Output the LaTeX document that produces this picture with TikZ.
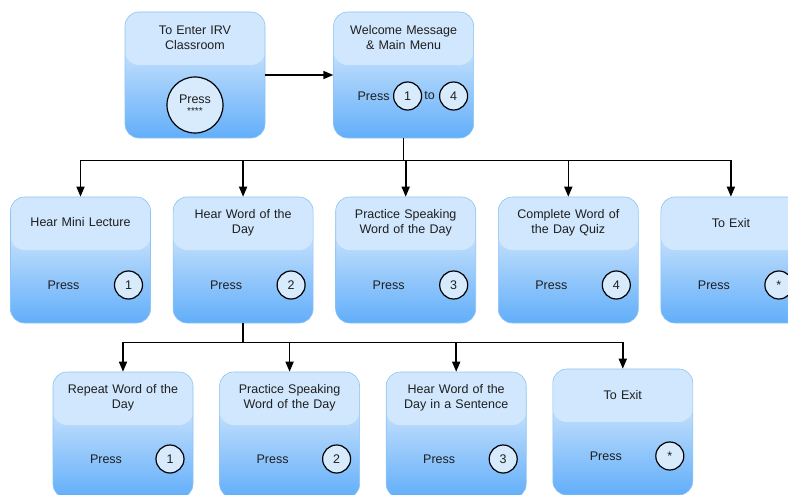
\documentclass[tikz,border=0pt]{standalone}
\usepackage{fontspec}
\setmainfont{Liberation Sans}
\usetikzlibrary{positioning,arrows.meta}

\definecolor{boxtop}{RGB}{238,246,253}
\definecolor{boxbot}{RGB}{98,174,250}
\definecolor{boxedge}{RGB}{140,196,244}
\definecolor{headblue}{RGB}{209,231,253}
\definecolor{keyfill}{RGB}{216,235,253}
\definecolor{txt}{RGB}{30,30,30}

\tikzset{
  menu/.style = {rectangle, rounded corners = 14pt, minimum width = 140pt,
    minimum height = 126pt, draw = boxedge, line width = 0.6pt,
    top color = boxtop, bottom color = boxbot,
    path picture = {\fill[headblue, rounded corners = 14pt]
      ([yshift=2pt]path picture bounding box.north west) rectangle
      ([yshift=-53pt]path picture bounding box.north east);}},
  head/.style = {text width = 128pt, align = center, text = txt,
    font = \fontsize{12.5}{15}\selectfont},
  press/.style = {text = txt, font = \fontsize{12.5}{15}\selectfont},
  key/.style = {circle, draw = black, line width = 1.2pt, fill = keyfill,
    minimum size = 28pt, inner sep = 0pt, text = txt,
    font = \fontsize{12.5}{15}\selectfont},
  wire/.style = {line width = 1.6pt},
  arr/.style = {wire, -{Triangle[length = 10pt, width = 8pt]}},
}

\begin{document}
\begin{tikzpicture}[x = 1pt, y = -1pt]
  \useasboundingbox (0,0) rectangle (788,495);
  \clip (0,0) rectangle (788,495);

  % top row
  \node[menu] (enter) at (195,75) {};
  \node[menu, right = 68pt of enter] (welcome) {};

  \node[head] at ([yshift=-26pt]enter.north) {To Enter IRV\\Classroom};
  \node[key, minimum size = 56pt, align = center] (pw) at ([yshift=-30pt]enter.center)
    {Press\\[-4pt]{\fontsize{10}{10}\selectfont ****}};

  \node[head] at ([yshift=-26pt]welcome.north) {Welcome Message\\\& Main Menu};
  \node[press] (wp) at ([xshift=-30pt,yshift=-21pt]welcome.center) {Press};
  \node[key] (w1) at ([xshift=4pt,yshift=-21pt]welcome.center) {1};
  \node[press] (wto) at ([xshift=26pt,yshift=-21pt]welcome.center) {to};
  \node[key] (w4) at ([xshift=50pt,yshift=-21pt]welcome.center) {4};

  % main menu
  \node[menu] (lect) at (80.5,260) {};
  \node[menu, right = 22pt of lect] (word) {};
  \node[menu, right = 22pt of word] (speak) {};
  \node[menu, right = 22pt of speak] (quiz) {};
  \node[menu, right = 22pt of quiz] (exit) {};

  \node[head] at ([yshift=-25pt]lect.north) {Hear Mini Lecture};
  \node[head] at ([yshift=-26pt]word.north) {Hear Word of the\\Day};
  \node[head] at ([yshift=-26pt]speak.north) {Practice Speaking\\Word of the Day};
  \node[head] at ([yshift=-26pt]quiz.north) {Complete Word of\\the Day Quiz};
  \node[head] at ([yshift=-26pt]exit.north) {To Exit};

  \foreach \b/\k in {lect/1, word/2, speak/3, quiz/4, exit/*} {
    \node[press] (\b p) at ([xshift=-17pt,yshift=-25pt]\b.center) {Press};
    \node[key] (\b k) at ([xshift=48pt,yshift=-25pt]\b.center) {\k};
  }

  % word of the day menu
  \node[menu] (rep) at (123,435) {};
  \node[menu, right = 26pt of rep] (prac) {};
  \node[menu, right = 26pt of prac] (sent) {};
  \node[menu, right = 26pt of sent, yshift = 3pt] (quit) {};

  \node[head] at ([yshift=-26pt]rep.north) {Repeat Word of the\\Day};
  \node[head] at ([yshift=-26pt]prac.north) {Practice Speaking\\Word of the Day};
  \node[head] at ([yshift=-26pt]sent.north) {Hear Word of the\\Day in a Sentence};
  \node[head] at ([yshift=-26pt]quit.north) {To Exit};

  \foreach \b/\k in {rep/1, prac/2, sent/3, quit/*} {
    \node[press] (\b p) at ([xshift=-17pt,yshift=-24pt]\b.center) {Press};
    \node[key] (\b k) at ([xshift=47pt,yshift=-24pt]\b.center) {\k};
  }

  % connectors
  \draw[arr] (enter.east) -- (welcome.west);

  \coordinate (j1) at ([yshift=-22pt]welcome.south);
  \draw[wire] (welcome.south) -- (j1);
  \draw[wire] (j1 -| lect.north) -- (j1 -| exit.north);
  \foreach \b in {lect, word, speak, quiz, exit}
    \draw[arr] (j1 -| \b.north) -- (\b.north);

  \coordinate (j2) at ([yshift=-19pt]word.south);
  \draw[wire] (word.south) -- (j2);
  \draw[wire] (j2 -| rep.north) -- (j2 -| quit.north);
  \foreach \b in {rep, prac, sent, quit}
    \draw[arr] (j2 -| \b.north) -- (\b.north);
\end{tikzpicture}
\end{document}
